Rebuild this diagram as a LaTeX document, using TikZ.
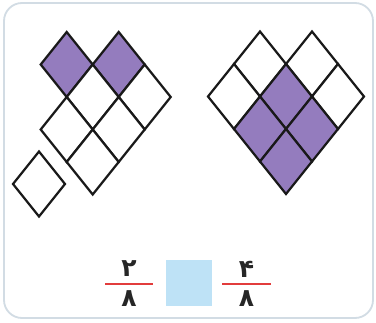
\documentclass[tikz,border=0pt]{standalone}
\usepackage{fontspec}
\newfontfamily\arabicfont[Script=Arabic]{DejaVu Sans}
\TeXXeTstate=1
\definecolor{cellpurple}{RGB}{148,124,190}
\definecolor{framegray}{RGB}{210,220,228}
\definecolor{boxblue}{RGB}{190,226,246}
\definecolor{fracred}{RGB}{226,60,60}
\tikzset{
  cellw/.style={draw=black!90, line width=2.2pt, line join=miter, fill=white},
  cellp/.style={cellw, fill=cellpurple},
  digit/.style={font=\arabicfont\bfseries\fontsize{25}{25}\selectfont, inner sep=0pt, text=black!85},
  fracbar/.style={draw=fracred, line width=1.5pt},
}
\newcommand{\dcell}[3]{\draw[#3] (#1,#2) -- ++(26,32.5) -- ++(-26,32.5) -- ++(-26,-32.5) -- cycle;}
\begin{document}
\begin{tikzpicture}[x=1pt,y=-1pt]
\useasboundingbox (0,0) rectangle (376,323);
\fill[white] (0,0) rectangle (376,323);
\draw[framegray, line width=1.8pt, rounded corners=18pt] (4,3) rectangle (373,318);
% left figure
\dcell{118.7}{32}{cellp}
\dcell{66.7}{32}{cellp}
\dcell{144.7}{64.5}{cellw}
\dcell{92.7}{64.5}{cellw}
\dcell{66.7}{97}{cellw}
\dcell{118.7}{97}{cellw}
\dcell{92.7}{129.5}{cellw}
\dcell{39}{151.5}{cellw}
% right figure
\dcell{260}{31.5}{cellw}
\dcell{312}{31.5}{cellw}
\dcell{234}{64}{cellw}
\dcell{338}{64}{cellw}
\dcell{286}{64}{cellp}
\dcell{260}{96.5}{cellp}
\dcell{312}{96.5}{cellp}
\dcell{286}{129}{cellp}
% fractions
\node[digit] (n1) at (129,269) {\beginR ۲\endR};
\node[digit] (d1) at (129,298.5) {\beginR ۸\endR};
\draw[fracbar] (105,284) -- (153,284);
\node[fill=boxblue, minimum width=46pt, minimum height=46pt, inner sep=0pt] (sq) at (189,283) {};
\node[digit] (n2) at (246.5,269) {\beginR ۴\endR};
\node[digit] (d2) at (246.5,298.5) {\beginR ۸\endR};
\draw[fracbar] (222,284) -- (271,284);
\end{tikzpicture}
\end{document}
